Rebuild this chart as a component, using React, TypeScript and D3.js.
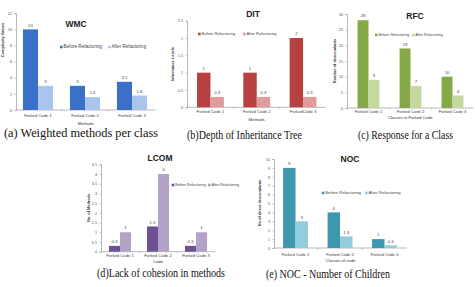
import React, { useEffect, useRef } from 'react';
import * as d3 from 'd3';

// ---------- data ----------
const seriesNames = ['Before Refactoring', 'After Refactoring'];
const categories = ['Forked Code 1', 'Forked Code 2', 'Forked Code 3'];
const categoriesDIT = ['Forked Code 1', 'Forked Code 2', 'ForkedCode 3'];

const wmcBefore = [10, 3, 3.5];
const wmcAfter = [3, 1.6, 1.8];
const wmcTicks = [0, 2, 4, 6, 8, 10, 12];

const ditBefore = [1, 1, 2];
const ditAfter = [0.3, 0.3, 0.3];
const ditTicks = [0, 0.5, 1, 1.5, 2, 2.5];

const rfcBefore = [28, 19, 10];
const rfcAfter = [9, 7, 4];
const rfcTicks = [0, 5, 10, 15, 20, 25, 30];

const lcomBefore = [0.3, 1.3, 0.3];
const lcomAfter = [1, 4, 1];
const lcomTicks = [0, 0.5, 1, 1.5, 2, 2.5, 3, 3.5, 4, 4.5];

const nocBefore = [9, 4, 1];
const nocAfter = [3, 1.3, 0.3];
const nocTicks = [0, 1, 2, 3, 4, 5, 6, 7, 8, 9, 10];

// ---------- chart specs (layout kept separate from values) ----------
const charts = [
  {
    title: 'WMC', cats: categories, before: wmcBefore, after: wmcAfter, ticks: wmcTicks,
    yLabel: 'Complexity Values', xLabel: 'Methods', caption: '(a) Weighted methods per class',
    colors: ['#3a70c8', '#a9c5ec'],
    L: { x0: 14.5, x1: 155.5, axisX: 16, yB: 110, yT: 13.3, pad: 0.36, tx: 76, ty: 25,
      lx: [60, 108], ly: 47, lf: 4.6, ylx: 3, yly: 40, catY: 117, xlY: 125,
      capX: 4, capY: 137, capW: 154 },
  },
  {
    title: 'DIT', cats: categoriesDIT, before: ditBefore, after: ditAfter, ticks: ditTicks,
    yLabel: 'Inheritance Levels', xLabel: 'Methods', caption: '(b)Depth of Inheritance Tree',
    colors: ['#b8403f', '#de9c9b'],
    L: { x0: 187.3, x1: 326.2, axisX: 187, yB: 107.3, yT: 20.7, pad: 0.42, tx: 253, ty: 15,
      lx: [198, 243], ly: 34, lf: 4.0, ylx: 173, yly: 64, catY: 113, xlY: 121,
      capX: 187, capY: 139, capW: 115 },
  },
  {
    title: 'RFC', cats: categories, before: rfcBefore, after: rfcAfter, ticks: rfcTicks,
    yLabel: 'Number of descendants', xLabel: 'Classes in Forked Code', caption: '(c)  Response for a Class',
    colors: ['#87a846', '#c5d89d'],
    L: { x0: 347.5, x1: 473.5, axisX: 347, yB: 108, yT: 14, pad: 0.48, tx: 415, ty: 17,
      lx: [375, 411.7], ly: 35, lf: 3.7, ylx: 335, yly: 61, catY: 113, xlY: 119,
      capX: 358, capY: 139, capW: 95 },
  },
  {
    title: 'LCOM', cats: categories, before: lcomBefore, after: lcomAfter, ticks: lcomTicks,
    yLabel: 'No. of Methods', xLabel: 'Code', caption: '(d)Lack of cohesion in methods',
    colors: ['#6c5193', '#b3a2c7'],
    L: { x0: 101, x1: 215, axisX: 101, yB: 251.7, yT: 164.3, pad: 0.42, tx: 160, ty: 159,
      lx: [171.7, 208], ly: 185, lf: 3.7, ylx: 89, yly: 208, catY: 257, xlY: 263,
      capX: 97, capY: 277, capW: 128 },
  },
  {
    title: 'NOC', cats: categories, before: nocBefore, after: nocAfter, ticks: nocTicks,
    yLabel: 'No of direct descendants', xLabel: 'Classes  of code', caption: '(e) NOC - Number of Children',
    colors: ['#3d98ad', '#93cddd'],
    L: { x0: 273.3, x1: 406.8, axisX: 274, yB: 248, yT: 159, pad: 0.44, tx: 350, ty: 160,
      lx: [321.7, 365], ly: 193, lf: 4.3, ylx: 260, yly: 203, catY: 256, xlY: 262,
      capX: 266, capY: 278, capW: 124 },
  },
];

const SANS = '"Liberation Sans", Arial, sans-serif';
const SERIF = '"Liberation Serif", "DejaVu Serif", serif';

export default function App() {
  const ref = useRef<SVGSVGElement | null>(null);

  useEffect(() => {
    const svg = d3.select(ref.current);
    svg.selectAll('*').remove();
    svg.append('rect').attr('width', 475).attr('height', 287).attr('fill', '#fff');

    charts.forEach((c) => {
      const L = c.L;
      const g = svg.append('g');
      const yMax = c.ticks[c.ticks.length - 1];
      const x = d3.scaleBand<string>().domain(c.cats).range([L.x0, L.x1])
        .paddingInner(L.pad).paddingOuter(L.pad / 2);
      const xi = d3.scaleBand<string>().domain(seriesNames).range([0, x.bandwidth()]);
      const y = d3.scaleLinear().domain([0, yMax]).range([L.yB, L.yT]);

      // y axis
      const ya = g.append('g').attr('transform', `translate(${L.axisX},0)`)
        .call(d3.axisLeft(y).tickValues(c.ticks).tickSize(1.5).tickPadding(2.5)
          .tickFormat((d) => String(d)));
      ya.select('.domain').attr('stroke', '#8c8c8c').attr('stroke-width', 0.6);
      ya.selectAll('.tick line').attr('stroke', '#8c8c8c').attr('stroke-width', 0.5);
      ya.selectAll('.tick text').attr('font-size', 3.8).attr('fill', '#555')
        .attr('font-family', SANS);

      // x axis
      g.append('line').attr('x1', L.axisX).attr('x2', L.x1)
        .attr('y1', L.yB).attr('y2', L.yB).attr('stroke', '#8c8c8c').attr('stroke-width', 0.6);
      const step = x.step();
      c.cats.forEach((cat, i) => {
        const bx = (x(cat) as number) + x.bandwidth() / 2 + step / 2;
        if (i < c.cats.length - 1) {
          g.append('line').attr('x1', bx).attr('x2', bx).attr('y1', L.yB).attr('y2', L.yB + 1.5)
            .attr('stroke', '#8c8c8c').attr('stroke-width', 0.5);
        }
        g.append('text').attr('x', (x(cat) as number) + x.bandwidth() / 2).attr('y', L.catY)
          .attr('text-anchor', 'middle').attr('font-size', 4.2).attr('fill', '#444')
          .attr('font-family', SANS).text(cat);
      });

      // bars
      const series = [c.before, c.after];
      series.forEach((vals, si) => {
        vals.forEach((v, i) => {
          const bx = (x(c.cats[i]) as number) + (xi(seriesNames[si]) as number);
          g.append('rect').attr('x', bx).attr('y', y(v)).attr('width', xi.bandwidth())
            .attr('height', L.yB - y(v)).attr('fill', c.colors[si]);
          g.append('text').attr('x', bx + xi.bandwidth() / 2).attr('y', y(v) - 2.8)
            .attr('text-anchor', 'middle').attr('font-size', 4.3).attr('fill', '#444')
            .attr('font-family', SANS).text(String(v));
        });
      });

      // title
      g.append('text').attr('x', L.tx).attr('y', L.ty).attr('dominant-baseline', 'middle')
        .attr('text-anchor', 'middle').attr('font-size', 8.5).attr('font-weight', 'bold')
        .attr('fill', '#222').attr('font-family', SANS).text(c.title);

      // legend
      seriesNames.forEach((s, si) => {
        g.append('rect').attr('x', L.lx[si]).attr('y', L.ly - 1.3).attr('width', 2.6)
          .attr('height', 2.6).attr('fill', c.colors[si]);
        g.append('text').attr('x', L.lx[si] + 3.5).attr('y', L.ly).attr('dominant-baseline', 'middle')
          .attr('font-size', L.lf).attr('fill', '#444').attr('font-family', SANS).text(s);
      });

      // axis titles
      g.append('text').attr('transform', `translate(${L.ylx},${L.yly}) rotate(-90)`)
        .attr('text-anchor', 'middle').attr('dominant-baseline', 'middle')
        .attr('font-size', 3.9).attr('font-weight', 'bold').attr('fill', '#333')
        .attr('font-family', SANS).text(c.yLabel);
      g.append('text').attr('x', (L.axisX + L.x1) / 2).attr('y', L.xlY)
        .attr('text-anchor', 'middle').attr('font-size', 4.2).attr('fill', '#333')
        .attr('font-family', SANS).text(c.xLabel);

      // caption
      g.append('text').attr('x', L.capX).attr('y', L.capY)
        .attr('font-size', 11.5).attr('fill', '#111').attr('font-family', SERIF)
        .attr('textLength', L.capW).attr('lengthAdjust', 'spacingAndGlyphs')
        .text(c.caption);
    });
  }, []);

  return (
    <svg ref={ref} width={475} height={287}
      style={{ position: 'absolute', left: 0, top: 0, display: 'block' }} />
  );
}
